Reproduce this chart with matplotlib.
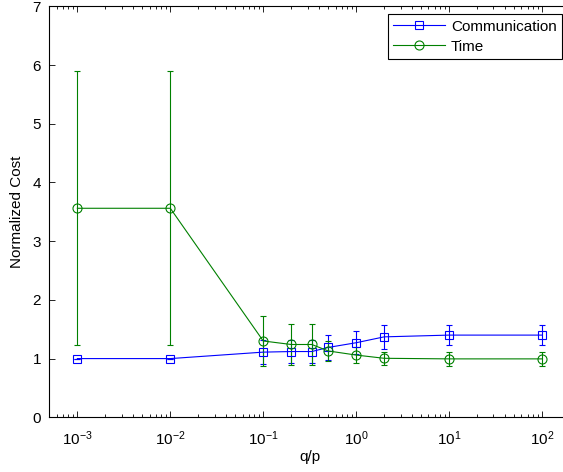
import matplotlib
matplotlib.use("Agg")
import matplotlib.pyplot as plt
from matplotlib.lines import Line2D
from matplotlib.ticker import LogLocator, FixedLocator

plt.rcParams['font.family'] = ['Liberation Sans', 'DejaVu Sans']
plt.rcParams['mathtext.default'] = 'regular'
plt.rcParams['font.size'] = 11

# ratio q/p
q_over_p = [1e-3, 1e-2, 0.1, 0.2, 1/3, 0.5, 1, 2, 10, 100]

# normalized communication cost and its spread
comm_mean = [1.0, 1.0, 1.11, 1.12, 1.12, 1.19, 1.27, 1.37, 1.40, 1.40]
comm_err = [0.0, 0.0, 0.2, 0.2, 0.2, 0.21, 0.2, 0.2, 0.165, 0.165]

# normalized time cost and its spread
time_mean = [3.56, 3.56, 1.30, 1.24, 1.24, 1.13, 1.06, 1.005, 0.995, 0.995]
time_err = [2.33, 2.33, 0.43, 0.35, 0.35, 0.17, 0.14, 0.11, 0.115, 0.115]

y_ticks = [0, 1, 2, 3, 4, 5, 6, 7]

W, H = 563, 472
fig = plt.figure(figsize=(W / 100, H / 100), dpi=100)
ax = fig.add_axes([49.4 / W, (H - 417.3) / H, (570 - 49.4) / W, (417.3 - 6.3) / H])

blue = (0, 0, 1)
green = (0, 0.5, 0)

ax.errorbar(q_over_p, comm_mean, yerr=comm_err, color=blue, lw=0.8,
            marker='s', ms=5.8, mfc='none', mec=blue, mew=0.8,
            capsize=2.5, elinewidth=0.8, capthick=0.8)
ax.errorbar(q_over_p, time_mean, yerr=time_err, color=green, lw=0.8,
            marker='o', ms=6.5, mfc='none', mec=green, mew=0.8,
            capsize=2.5, elinewidth=0.8, capthick=0.8)

ax.set_xscale('log')
ax.set_xlim(5e-4, 200)
ax.set_ylim(0, 7)
ax.yaxis.set_major_locator(FixedLocator(y_ticks))
ax.xaxis.set_major_locator(LogLocator(base=10, numticks=20))
ax.xaxis.set_minor_locator(LogLocator(base=10, subs=range(2, 10), numticks=20))

ax.tick_params(which='both', direction='in', top=True, right=True)
ax.tick_params(which='major', length=4.5, width=0.6)
ax.tick_params(axis='x', which='major', pad=9)
ax.tick_params(axis='y', which='major', pad=6)
ax.tick_params(which='minor', length=2.5, width=0.6)
for s in ax.spines.values():
    s.set_linewidth(0.8)

ax.set_xlabel('q/p', labelpad=1)
ax.set_ylabel('Normalized Cost', labelpad=6)

handles = [
    Line2D([], [], color=blue, lw=0.8, marker='s', ms=5.8, mfc='none', mec=blue, mew=0.8),
    Line2D([], [], color=green, lw=0.8, marker='o', ms=6.5, mfc='none', mec=green, mew=0.8),
]
leg = ax.legend(handles, ['Communication', 'Time'], loc='upper right',
                bbox_to_anchor=(562 / W, (H - 14.3) / H),
                bbox_transform=fig.transFigure, fancybox=False,
                edgecolor='black', framealpha=1, borderpad=0.35,
                handlelength=3.4, handletextpad=0.4, labelspacing=0.4,
                borderaxespad=0, fontsize=11)
leg.get_frame().set_linewidth(0.8)

fig.savefig('out.png', dpi=100)
